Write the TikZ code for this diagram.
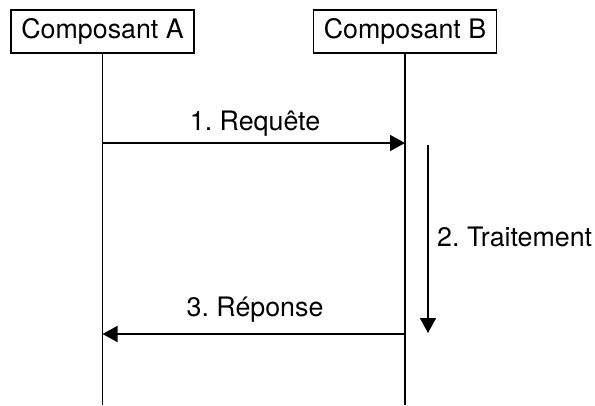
\documentclass[tikz,border=0pt]{standalone}
\usepackage{fontspec}
\setmainfont{TeX Gyre Heros}
\frenchspacing
\usetikzlibrary{arrows.meta}
\begin{document}
\begin{tikzpicture}[x=1pt,y=-1pt,
  comp/.style={draw,line width=1.4pt,minimum width=183pt,minimum height=43pt,inner sep=0pt,font=\fontsize{26.8}{30}\selectfont},
  life/.style={line width=1.6pt},
  msg/.style={line width=1.6pt,-{Triangle[length=15pt,width=16pt]}},
  lbl/.style={inner sep=0pt,font=\fontsize{26.8}{30}\selectfont}]
\useasboundingbox (0,0) rectangle (595,405);
\node[comp] (A) at (102.5,31.5) {Composant A};
\node[comp] (B) at (405,31.5) {Composant B};
\coordinate (Aend) at (A.south |- 0,405);
\coordinate (Bend) at (B.south |- 0,405);
\draw[life] (A.south) -- (Aend);
\draw[life] (B.south) -- (Bend);
\coordinate (a1) at (A.south |- 0,143);
\coordinate (b1) at (B.south |- 0,143);
\coordinate (a3) at (A.south |- 0,334);
\coordinate (b3) at (B.south |- 0,334);
\coordinate (p0) at (428,145);
\coordinate (p1) at (428,333);
\draw[msg] (a1) -- (b1);
\draw[msg] (p0) -- (p1);
\draw[msg] (b3) -- (a3);
\node[lbl,anchor=base] (l1) at (255,130) {1. Requête};
\node[lbl,anchor=base west] (l2) at (437,246) {2. Traitement};
\node[lbl,anchor=base] (l3) at (255,316.5) {3. Réponse};
\end{tikzpicture}
\end{document}
